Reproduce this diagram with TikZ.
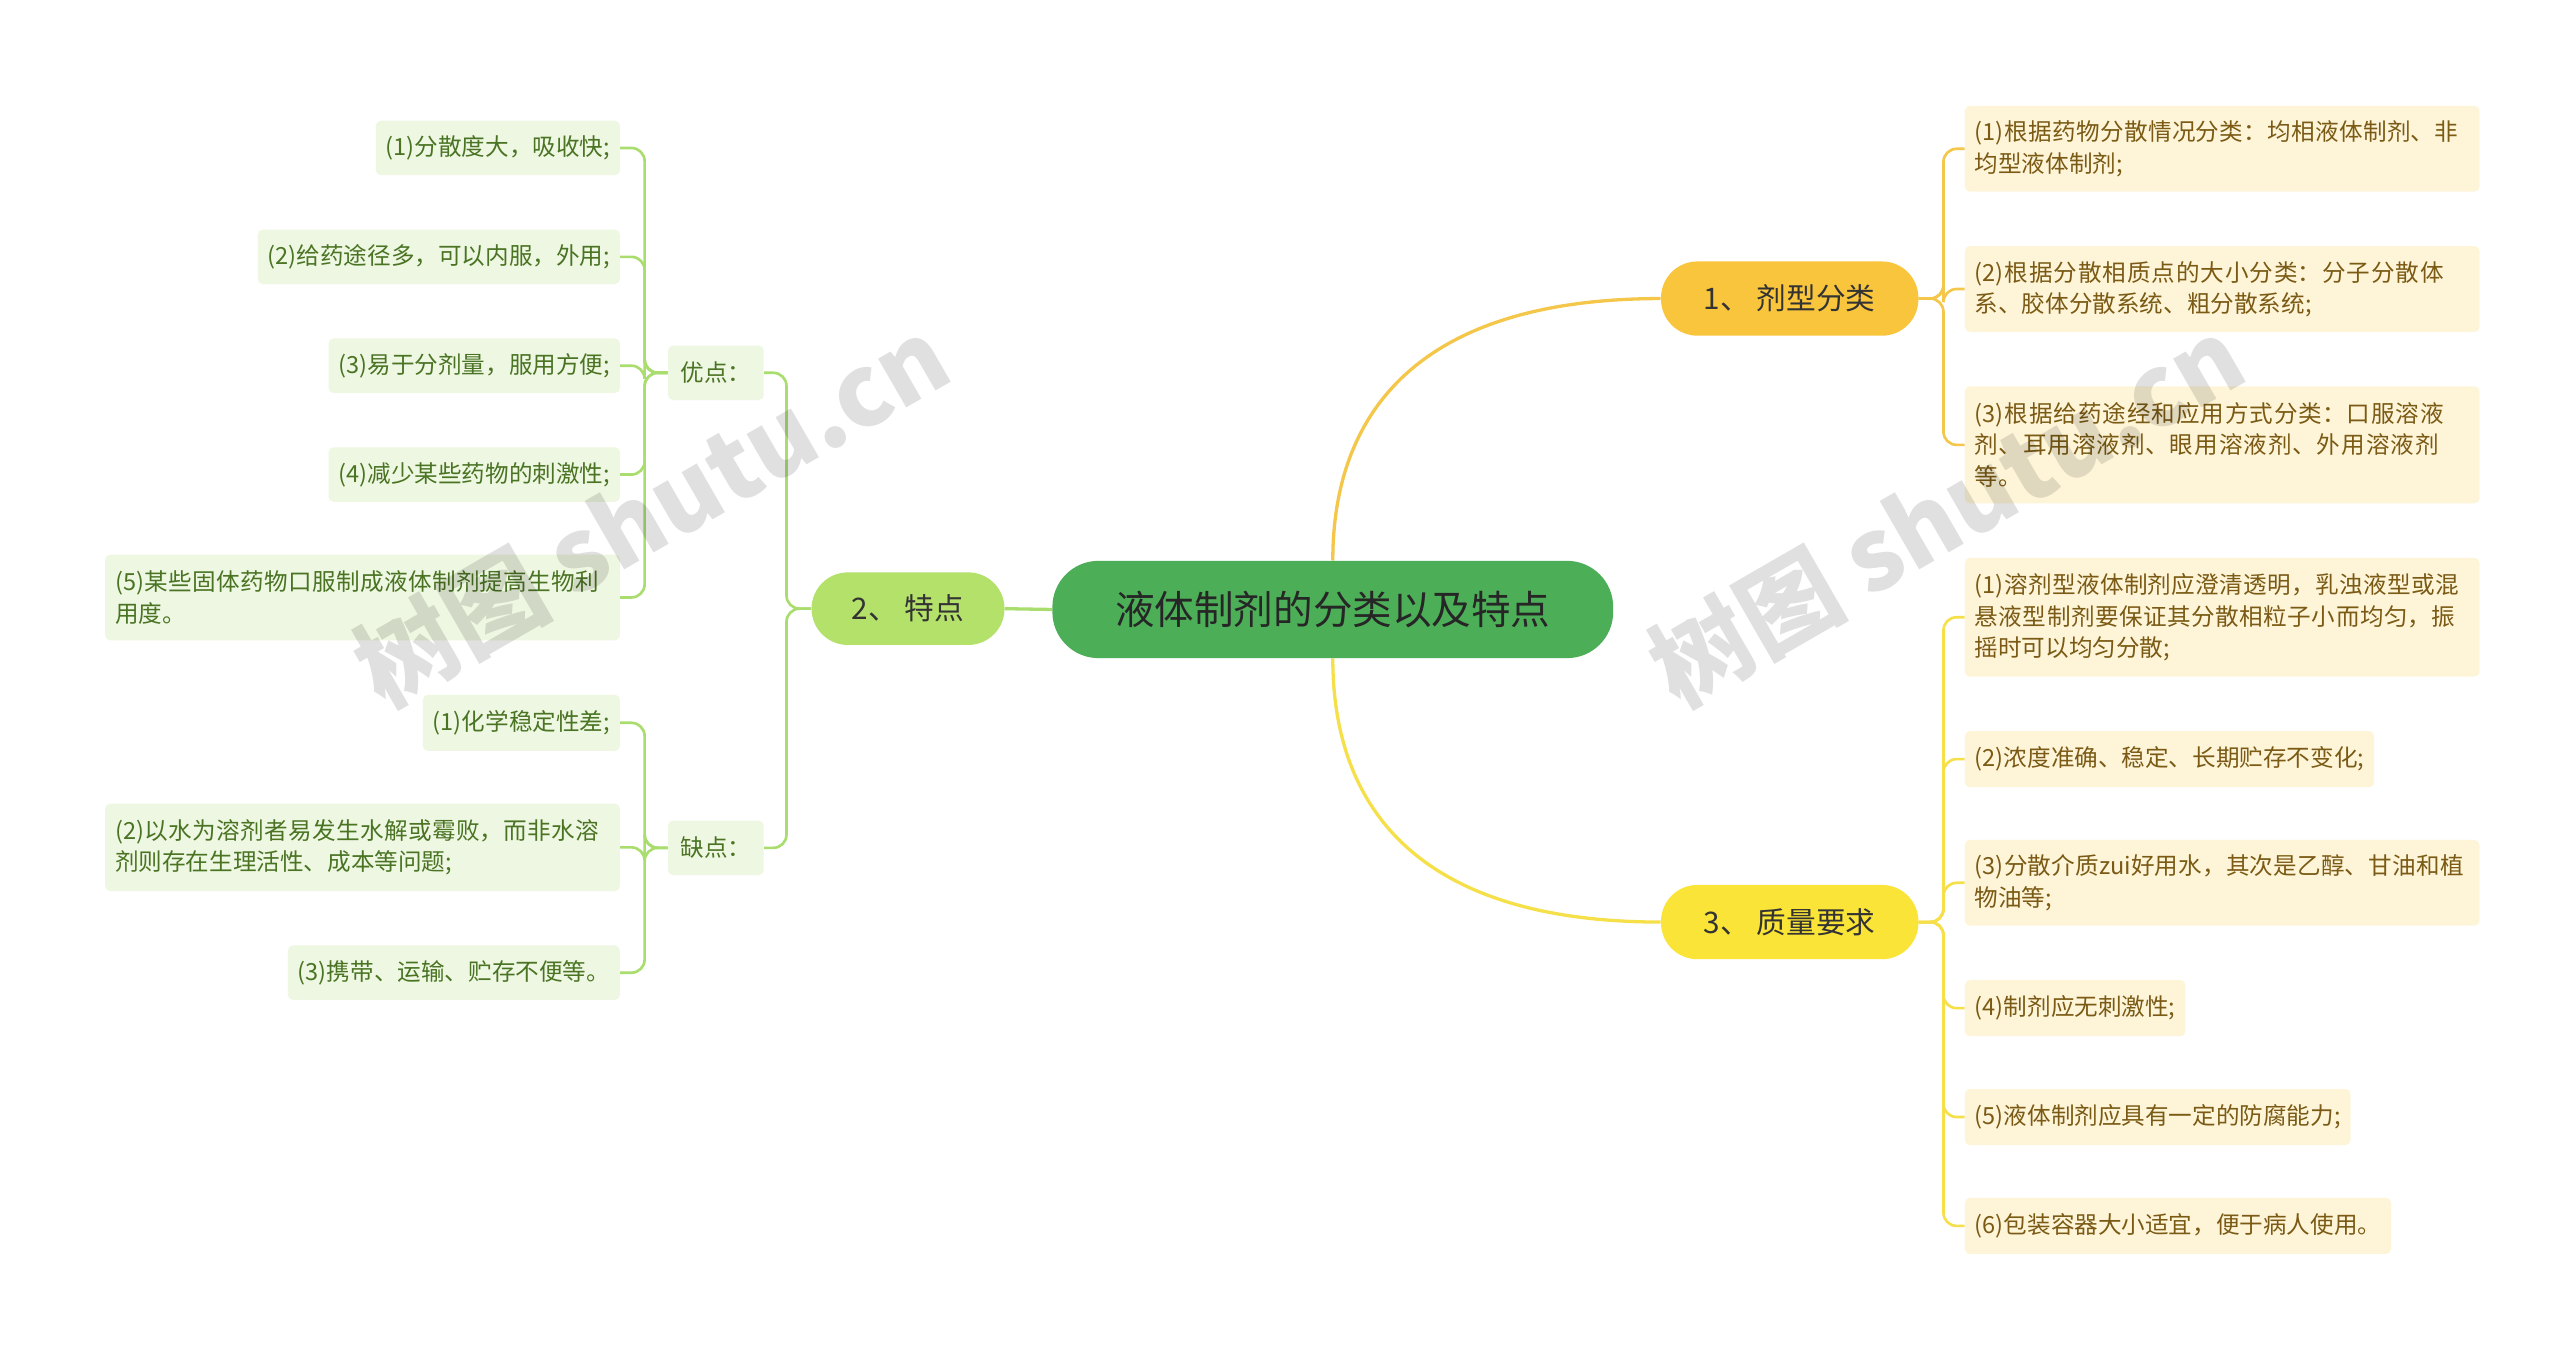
\documentclass[tikz,border=0pt]{standalone}
\usepackage{fontspec}
\setmainfont{Noto Sans CJK SC}
\XeTeXlinebreaklocale "zh"
\XeTeXlinebreakskip=0pt plus 1pt
\usetikzlibrary{backgrounds}
\definecolor{rootg}{HTML}{4DAE58}
\definecolor{orn}{HTML}{F9C53C}
\definecolor{yel}{HTML}{FAE437}
\definecolor{lgr}{HTML}{B3E16A}
\definecolor{leafY}{HTML}{FEF5D9}
\definecolor{leafG}{HTML}{EEF7E1}
\definecolor{txtY}{HTML}{7A5A14}
\definecolor{txtG}{HTML}{4A7424}
\definecolor{lnG}{HTML}{A9DD6E}
\definecolor{lnO}{HTML}{F4C74A}
\definecolor{lnY}{HTML}{F6E04A}
\tikzset{x=1pt,y=-1pt,
 lf/.style={rectangle,rounded corners=3pt,anchor=north west,inner sep=6pt,align=left,font=\fontsize{14.3}{19}\selectfont},
 lfR/.style={lf,fill=leafY,text=txtY},
 lfL/.style={lf,fill=leafG,text=txtG},
 mainn/.style={rectangle,rounded corners=22pt,font=\fontsize{18}{22}\selectfont,text=black!80},
 cn/.style={line width=1.6pt,rounded corners=8pt}}
\begin{document}
\begin{tikzpicture}
\useasboundingbox (0,0) rectangle (1552,816);
% root and main
\node[rectangle,rounded corners=28pt,fill=rootg,minimum width=340pt,minimum height=59pt,font=\fontsize{24}{28}\selectfont,text=black!85] (root) at (808,369.5) {液体制剂的分类以及特点};
\node[mainn,fill=orn,minimum width=156pt,minimum height=45pt] (n1) at (1085,181) {1、 剂型分类};
\node[mainn,fill=yel,minimum width=156pt,minimum height=45pt] (n3) at (1085,559) {3、 质量要求};
\node[mainn,fill=lgr,minimum width=117pt,minimum height=44pt] (n2) at (550.5,369) {2、 特点};
\node[rectangle,rounded corners=3pt,fill=leafG,text=txtG,minimum width=58pt,minimum height=33pt,font=\fontsize{14.3}{19}\selectfont] (yd) at (434,226) {优点：};
\node[rectangle,rounded corners=3pt,fill=leafG,text=txtG,minimum width=58pt,minimum height=33pt,font=\fontsize{14.3}{19}\selectfont] (qd) at (434,514) {缺点：};
% right leaves
\node[lfR,text width=300pt,minimum height=52pt] (r1) at (1191,64) {(1)根据药物分散情况分类：均相液体制剂、非均型液体制剂;};
\node[lfR,text width=300pt,minimum height=52pt] (r2) at (1191,149) {(2)根据分散相质点的大小分类：分子分散体系、胶体分散系统、粗分散系统;};
\node[lfR,text width=300pt,minimum height=71pt] (r3) at (1191,234) {(3)根据给药途经和应用方式分类：口服溶液剂、耳用溶液剂、眼用溶液剂、外用溶液剂等。};
\node[lfR,text width=300pt,minimum height=72pt] (q1) at (1191,338) {(1)溶剂型液体制剂应澄清透明，乳浊液型或混悬液型制剂要保证其分散相粒子小而均匀，振摇时可以均匀分散;};
\node[lfR,minimum height=34pt] (q2) at (1191,443) {(2)浓度准确、稳定、长期贮存不变化;};
\node[lfR,text width=300pt,minimum height=52pt] (q3) at (1191,509) {(3)分散介质zui好用水，其次是乙醇、甘油和植物油等;};
\node[lfR,minimum height=34pt] (q4) at (1191,594) {(4)制剂应无刺激性;};
\node[lfR,minimum height=34pt] (q5) at (1191,660) {(5)液体制剂应具有一定的防腐能力;};
\node[lfR,minimum height=34pt] (q6) at (1191,726) {(6)包装容器大小适宜，便于病人使用。};
% left leaves
\node[lfL,minimum height=33pt,anchor=north east] (a1) at (376,73) {(1)分散度大，吸收快;};
\node[lfL,minimum height=33pt,anchor=north east] (a2) at (376,139) {(2)给药途径多，可以内服，外用;};
\node[lfL,minimum height=33pt,anchor=north east] (a3) at (376,205) {(3)易于分剂量，服用方便;};
\node[lfL,minimum height=33pt,anchor=north east] (a4) at (376,271) {(4)减少某些药物的刺激性;};
\node[lfL,text width=300pt,minimum height=52pt,anchor=north east] (a5) at (376,336) {(5)某些固体药物口服制成液体制剂提高生物利用度。};
\node[lfL,minimum height=34pt,anchor=north east] (b1) at (376,421) {(1)化学稳定性差;};
\node[lfL,text width=300pt,minimum height=53pt,anchor=north east] (b2) at (376,487) {(2)以水为溶剂者易发生水解或霉败，而非水溶剂则存在生理活性、成本等问题;};
\node[lfL,minimum height=33pt,anchor=north east] (b3) at (376,573) {(3)携带、运输、贮存不便等。};
\begin{scope}[on background layer]
\fill[white] (0,0) rectangle (1552,816);
\draw[lnO,line width=2pt] (root.north) .. controls (808,250) and (860,181) .. (n1.west);
\draw[lnY,line width=2pt] (root.south) .. controls (808,490) and (860,559) .. (n3.west);
\draw[lnG,line width=2pt] (root.west) -- (n2.east);
\foreach \t in {r1,r2,r3} \draw[cn,lnO] (n1.east) -- ++(15,0) |- (\t.west);
\foreach \t in {q1,q2,q3,q4,q5,q6} \draw[cn,lnY] (n3.east) -- ++(15,0) |- (\t.west);
\foreach \t in {yd,qd} \draw[cn,lnG] (n2.west) -- ++(-15,0) |- (\t.east);
\foreach \t in {a1,a2,a3,a4,a5} \draw[cn,lnG] (yd.west) -- ++(-14,0) |- (\t.east);
\foreach \t in {b1,b2,b3} \draw[cn,lnG] (qd.west) -- ++(-14,0) |- (\t.east);
\end{scope}
% watermarks
\node[rotate=30,font=\fontsize{60}{60}\selectfont\bfseries,text=black,opacity=0.12] at (395,310) {树图 shutu.cn};
\node[rotate=30,font=\fontsize{60}{60}\selectfont\bfseries,text=black,opacity=0.12] at (1180,310) {树图 shutu.cn};
\end{tikzpicture}
\end{document}
